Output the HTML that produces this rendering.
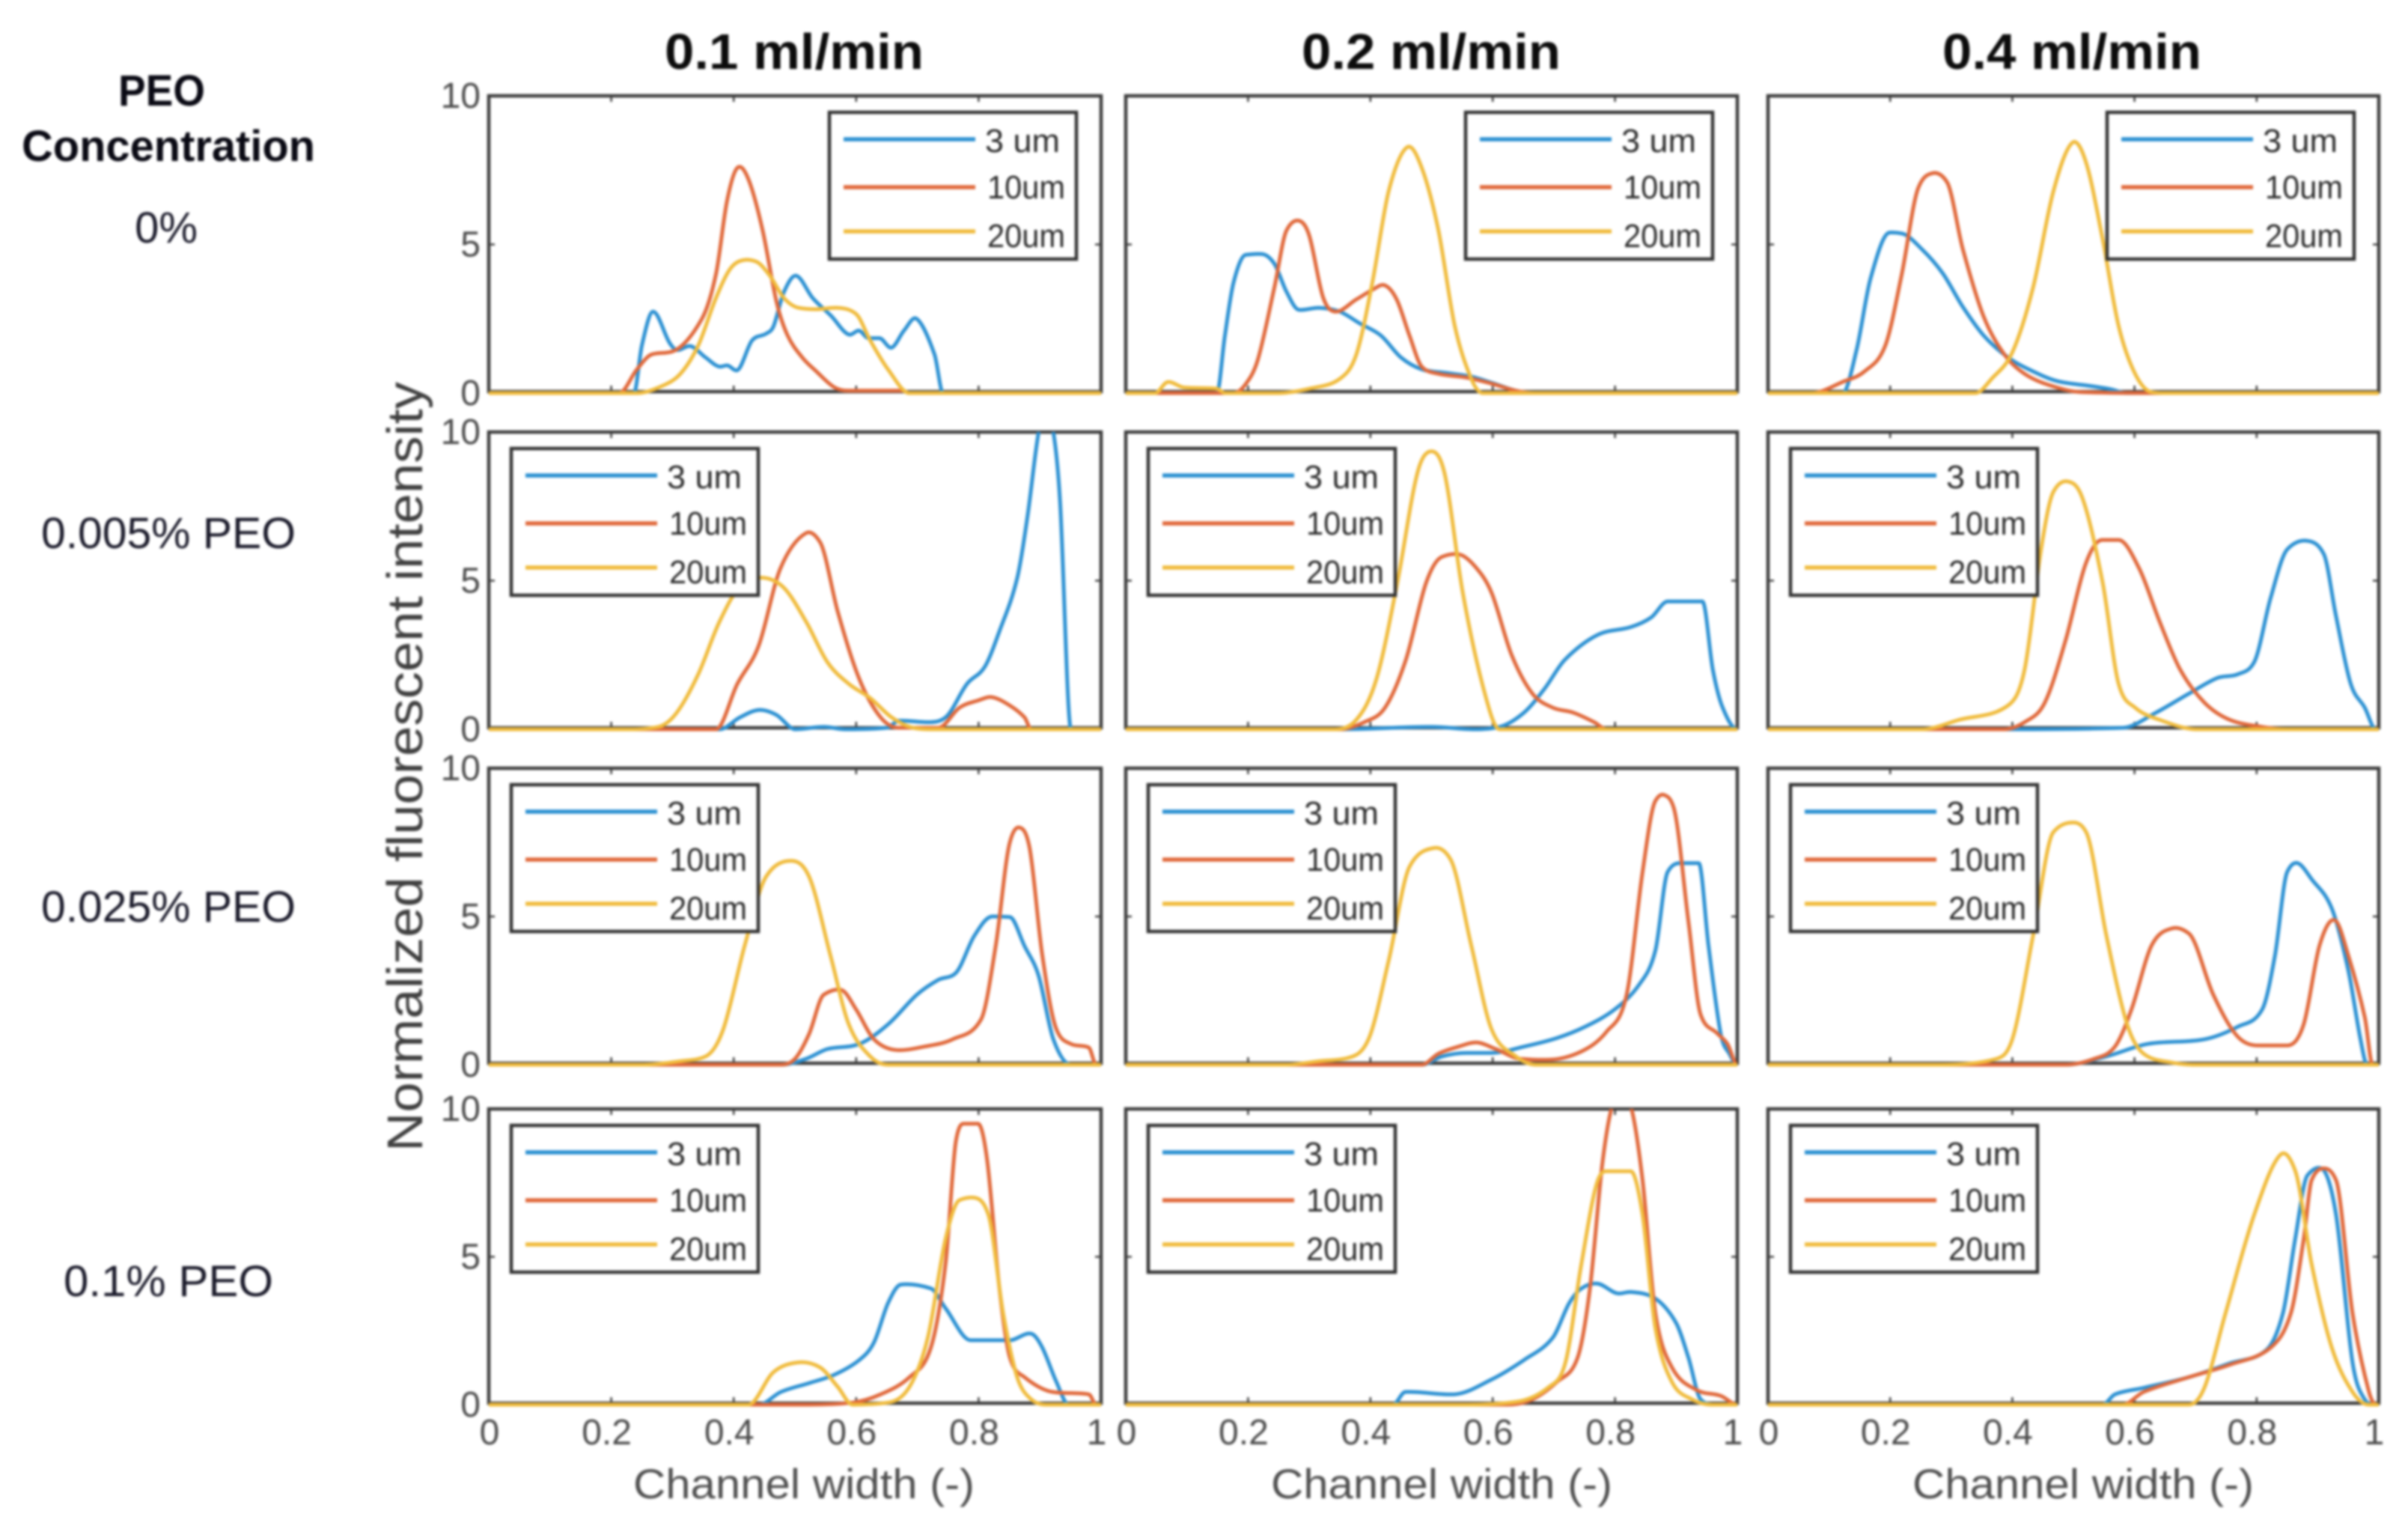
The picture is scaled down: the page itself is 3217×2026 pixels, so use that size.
<!DOCTYPE html>
<html lang="en">
<head>
<meta charset="utf-8">
<title>Normalized fluorescent intensity by channel width</title>
<style>
html,body{margin:0;padding:0;background:#fff;width:3217px;height:2026px;overflow:hidden}
svg{display:block;filter:blur(1.5px)}
text{font-family:"Liberation Sans",sans-serif}
</style>
</head>
<body>
<svg id="figure" xmlns="http://www.w3.org/2000/svg" width="3217" height="2026" viewBox="0 0 3217 2026">
  <rect width="3217" height="2026" fill="#fff"/>
  <g font-weight="700" font-size="67" fill="#0c0c0c" text-anchor="middle">
    <text x="1061" y="92" textLength="346" lengthAdjust="spacingAndGlyphs">0.1 ml/min</text>
    <text x="1912" y="92" textLength="346" lengthAdjust="spacingAndGlyphs">0.2 ml/min</text>
    <text x="2768" y="92" textLength="346" lengthAdjust="spacingAndGlyphs">0.4 ml/min</text>
  </g>
  <g font-size="58" fill="#1a1a2a" text-anchor="middle">
    <text x="216" y="141" font-weight="700" textLength="116" lengthAdjust="spacingAndGlyphs" fill="#0a0a14">PEO</text>
    <text x="225" y="215" font-weight="700" textLength="392" lengthAdjust="spacingAndGlyphs" fill="#0a0a14">Concentration</text>
    <text x="222" y="324">0%</text>
    <text x="225" y="732" textLength="340" lengthAdjust="spacingAndGlyphs">0.005% PEO</text>
    <text x="225" y="1231" textLength="340" lengthAdjust="spacingAndGlyphs">0.025% PEO</text>
    <text x="225" y="1731" textLength="280" lengthAdjust="spacingAndGlyphs">0.1% PEO</text>
  </g>
  <text transform="translate(564,1024) rotate(-90)" font-size="67" fill="#404040" text-anchor="middle" textLength="1028" lengthAdjust="spacingAndGlyphs">Normalized fluorescent intensity</text>
  <g font-size="56" fill="#505050" text-anchor="middle">
    <text x="1074" y="2001" textLength="456" lengthAdjust="spacingAndGlyphs">Channel width (-)</text>
    <text x="1926" y="2001" textLength="456" lengthAdjust="spacingAndGlyphs">Channel width (-)</text>
    <text x="2783" y="2001" textLength="456" lengthAdjust="spacingAndGlyphs">Channel width (-)</text>
  </g>
  <g id="panels"></g>
</svg>
<script>
const xTickValues = [0, 0.2, 0.4, 0.6, 0.8, 1];
const xTickLabels = ['0', '0.2', '0.4', '0.6', '0.8', '1'];
const yTickValues = [0, 5, 10];
const yTickLabels = ['0', '5', '10'];
const seriesLabels = ['3 um', '10um', '20um'];
const seriesKeys = ['3um', '10um', '20um'];

const r1c1_3um = [[.237,0],[.25,1.6],[.268,2.74],[.295,1.7],[.307,1.45],[.33,1.58],[.354,1.2],[.377,.89],[.39,.93],[.406,.77],[.43,1.77],[.453,2.0],[.465,2.25],[.482,3.4],[.502,3.95],[.529,3.2],[.559,2.6],[.588,1.97],[.605,2.1],[.62,1.85],[.638,1.85],[.658,1.53],[.678,2.1],[.699,2.5],[.728,1.3],[.742,0]];
const r1c1_10um = [[.213,0],[.242,.8],[.266,1.3],[.3,1.4],[.348,2.5],[.371,4.0],[.389,6.45],[.406,7.58],[.424,7.2],[.447,5.5],[.47,3.06],[.488,1.94],[.512,1.2],[.535,.73],[.564,.2],[.588,.08],[.676,.08],[.687,0]];
const r1c1_20um = [[.242,0],[.283,.24],[.313,.65],[.342,1.6],[.371,3.2],[.395,4.2],[.418,4.48],[.436,4.43],[.459,3.95],[.482,3.2],[.506,2.87],[.535,2.82],[.57,2.87],[.6,2.66],[.623,1.77],[.652,.8],[.687,0]];

const r1c2_3um = [[.149,0],[.162,1.93],[.176,3.7],[.196,4.65],[.222,4.68],[.243,4.35],[.263,3.4],[.283,2.8],[.316,2.87],[.35,2.74],[.383,2.34],[.417,1.94],[.45,1.2],[.484,.8],[.524,.68],[.564,.56],[.598,.35],[.638,.08],[.665,0]];
const r1c2_10um = [[.176,0],[.196,.3],[.216,1.13],[.243,3.55],[.263,5.48],[.283,5.8],[.3,5.3],[.323,3.2],[.343,2.74],[.377,3.15],[.403,3.47],[.423,3.63],[.443,3.15],[.464,1.93],[.484,.89],[.511,.65],[.558,.52],[.598,.32],[.638,.08],[.67,0]];
const r1c2_20um = [[.048,0],[.068,.37],[.095,.19],[.149,.15],[.162,0],[.25,0],[.303,.16],[.35,.48],[.377,1.3],[.403,3.7],[.43,6.8],[.46,8.27],[.484,7.58],[.511,5.5],[.538,2.26],[.565,.48],[.584,0]];

const r1c3_3um = [[.122,0],[.145,1.45],[.168,3.87],[.199,5.4],[.219,5.37],[.252,4.84],[.286,4.03],[.319,2.9],[.353,1.94],[.393,1.2],[.434,.73],[.474,.4],[.528,.24],[.561,.13],[.588,0]];
const r1c3_10um = [[.071,0],[.125,.4],[.158,.73],[.192,1.6],[.219,4.0],[.246,6.9],[.27,7.4],[.293,7.1],[.319,4.84],[.353,2.58],[.387,1.3],[.42,.65],[.46,.27],[.514,.03],[.63,0]];
const r1c3_20um = [[.34,0],[.366,.48],[.4,1.37],[.434,3.55],[.467,6.77],[.498,8.42],[.521,7.74],[.548,5.16],[.574,2.26],[.601,.65],[.628,.03],[.648,0]];

const r2c1_3um = [[.377,0],[.41,.4],[.441,.65],[.47,.48],[.5,0],[.547,.08],[.582,0],[.65,.05],[.67,.29],[.722,.24],[.746,.4],[.781,1.53],[.81,2.1],[.834,3.3],[.863,5.08],[.88,7.18],[.898,10],[.91,10.6],[.922,10],[.933,7.66],[.951,0]];
const r2c1_10um = [[.371,0],[.406,1.53],[.441,2.82],[.476,5.4],[.518,6.6],[.541,6.3],[.57,3.95],[.605,1.7],[.64,.4],[.67,.05],[.734,.05],[.769,.73],[.799,.97],[.822,1.08],[.851,.8],[.875,.4],[.886,0]];
const r2c1_20um = [[.23,0],[.277,.08],[.307,.56],[.342,1.85],[.377,3.63],[.412,4.84],[.447,5.1],[.482,4.76],[.518,3.63],[.553,2.26],[.588,1.53],[.623,1.05],[.658,.4],[.693,.05],[.722,0]];

const r2c2_3um = [[.35,0],[.5,.08],[.57,0],[.611,.08],[.651,.56],[.685,1.37],[.718,2.34],[.772,3.18],[.826,3.44],[.859,3.76],[.886,4.3],[.943,4.3],[.96,2.0],[.976,.73],[1,0]];
const r2c2_10um = [[.35,0],[.39,.24],[.424,.73],[.458,2.34],[.491,4.92],[.517,5.8],[.544,5.89],[.571,5.48],[.598,4.6],[.631,2.5],[.665,1.2],[.698,.73],[.732,.56],[.766,.24],[.786,0]];
const r2c2_20um = [[.343,0],[.377,.32],[.41,1.7],[.444,4.92],[.477,8.63],[.5,9.35],[.521,8.63],[.551,4.6],[.585,1.37],[.611,0]];

const r2c3_3um = [[.393,0],[.581,.05],[.635,.56],[.689,1.2],[.736,1.73],[.769,1.85],[.796,2.26],[.823,4.43],[.85,6.05],[.883,6.34],[.91,5.89],[.93,3.8],[.954,1.53],[.977,.73],[.995,0]];
const r2c3_10um = [[.386,0],[.42,.24],[.453,.89],[.487,2.98],[.52,5.56],[.547,6.37],[.574,6.37],[.608,5.4],[.641,3.63],[.675,2.0],[.715,.89],[.756,.32],[.809,.08],[.85,0]];
const r2c3_20um = [[.252,0],[.313,.32],[.393,.8],[.42,2.0],[.447,6.05],[.467,7.98],[.49,8.34],[.514,7.82],[.548,4.92],[.574,1.53],[.601,.73],[.641,.32],[.702,0]];

const r3c1_3um = [[.477,0],[.518,.2],[.553,.53],[.605,.7],[.652,1.36],[.699,2.36],[.734,2.86],[.763,3.1],[.793,4.35],[.822,5.0],[.851,4.98],[.875,4.0],[.898,3.0],[.922,.86],[.951,0]];
const r3c1_10um = [[.477,0],[.5,.2],[.523,1.03],[.547,2.36],[.576,2.52],[.6,1.86],[.629,.86],[.664,.5],[.711,.61],[.758,.86],[.804,1.53],[.828,4.02],[.851,7.5],[.867,8.0],[.883,7.34],[.904,3.69],[.927,1.2],[.951,.7],[.98,.58],[.992,0]];
const r3c1_20um = [[.254,0],[.313,.12],[.354,.28],[.383,1.2],[.418,4.02],[.453,6.35],[.494,6.88],[.523,6.35],[.558,3.69],[.588,1.36],[.623,.28],[.652,0]];

const r3c2_3um = [[.484,0],[.517,.28],[.557,.4],[.598,.4],[.651,.61],[.705,.9],[.751,1.28],[.799,1.86],[.839,2.69],[.866,3.85],[.886,6.5],[.906,6.8],[.937,6.8],[.953,4.0],[.973,1.03],[.987,.37],[1,0]];
const r3c2_10um = [[.484,0],[.511,.37],[.544,.61],[.574,.75],[.605,.53],[.645,.2],[.692,.17],[.745,.45],[.786,1.11],[.819,2.36],[.845,6.5],[.866,8.9],[.88,9.1],[.896,8.67],[.92,4.85],[.94,1.69],[.967,1.06],[.984,.7],[1,0]];
const r3c2_20um = [[.263,0],[.316,.12],[.363,.23],[.397,.86],[.43,3.52],[.464,6.68],[.504,7.31],[.531,6.93],[.565,4.02],[.598,1.2],[.638,.28],[.672,0]];

const r3c3_3um = [[.487,0],[.554,.28],[.621,.7],[.715,.86],[.769,1.28],[.809,1.86],[.83,3.69],[.85,6.5],[.867,6.8],[.89,6.26],[.923,5.27],[.95,3.19],[.97,.86],[.981,0]];
const r3c3_10um = [[.487,0],[.534,.2],[.568,.61],[.595,1.86],[.628,4.02],[.662,4.6],[.689,4.43],[.729,2.36],[.769,.95],[.803,.65],[.85,.65],[.877,1.36],[.903,4.02],[.928,4.88],[.95,3.69],[.977,1.61],[.99,0]];
const r3c3_20um = [[.286,0],[.374,.2],[.4,.86],[.434,4.35],[.467,7.84],[.5,8.17],[.521,7.84],[.554,4.35],[.588,1.36],[.615,.37],[.662,.07],[.702,0]];

const r4c1_3um = [[.441,0],[.477,.43],[.523,.73],[.564,1.01],[.605,1.51],[.629,2.1],[.652,3.43],[.673,4.06],[.722,3.93],[.746,3.26],[.787,2.18],[.851,2.18],[.886,2.4],[.904,1.93],[.927,.77],[.947,0]];
const r4c1_10um = [[.523,0],[.594,.07],[.64,.35],[.687,.93],[.722,1.93],[.746,4.76],[.763,8.92],[.775,9.5],[.799,9.5],[.814,8.25],[.834,3.93],[.851,1.6],[.875,.93],[.921,.43],[.98,.35],[.992,0]];
const r4c1_20um = [[.424,0],[.465,1.1],[.506,1.43],[.541,1.26],[.57,.6],[.594,0],[.652,.07],[.687,.6],[.717,2.26],[.746,5.6],[.769,6.92],[.793,7.0],[.816,6.42],[.84,3.1],[.863,.93],[.886,.18],[.91,0]];

const r4c2_3um = [[.437,0],[.457,.43],[.537,.35],[.598,.85],[.651,1.51],[.698,2.26],[.725,3.43],[.745,3.93],[.772,4.09],[.805,3.76],[.826,3.81],[.866,3.59],[.9,2.76],[.92,1.6],[.94,.18],[.96,0]];
const r4c2_10um = [[.625,0],[.665,.18],[.705,.77],[.739,1.6],[.759,3.93],[.779,8.09],[.795,10.07],[.81,10.5],[.826,10.07],[.845,7.59],[.866,3.1],[.893,1.26],[.933,.5],[.973,.3],[1,0]];
const r4c2_20um = [[.558,0],[.64,.1],[.692,.6],[.719,1.43],[.745,4.76],[.772,7.59],[.785,7.89],[.826,7.89],[.845,6.42],[.866,2.6],[.893,.77],[.926,.18],[.96,0]];

const r4c3_3um = [[.548,0],[.568,.35],[.615,.57],[.689,.93],[.756,1.4],[.816,1.85],[.843,3.09],[.863,5.59],[.883,7.75],[.906,7.99],[.93,6.42],[.957,1.43],[.977,.18],[.99,0]];
const r4c3_10um = [[.581,0],[.615,.43],[.689,.93],[.756,1.35],[.823,1.93],[.856,3.09],[.877,5.59],[.89,7.59],[.91,7.99],[.93,7.59],[.957,3.09],[.984,.43],[.997,0]];
const r4c3_20um = [[.689,0],[.715,.6],[.749,3.09],[.796,6.42],[.839,8.45],[.863,7.92],[.89,4.76],[.923,1.93],[.957,.43],[.984,0]];

const panelSeries = [
  [[r1c1_3um, r1c1_10um, r1c1_20um], [r1c2_3um, r1c2_10um, r1c2_20um], [r1c3_3um, r1c3_10um, r1c3_20um]],
  [[r2c1_3um, r2c1_10um, r2c1_20um], [r2c2_3um, r2c2_10um, r2c2_20um], [r2c3_3um, r2c3_10um, r2c3_20um]],
  [[r3c1_3um, r3c1_10um, r3c1_20um], [r3c2_3um, r3c2_10um, r3c2_20um], [r3c3_3um, r3c3_10um, r3c3_20um]],
  [[r4c1_3um, r4c1_10um, r4c1_20um], [r4c2_3um, r4c2_10um, r4c2_20um], [r4c3_3um, r4c3_10um, r4c3_20um]]
];

const NS = 'http://www.w3.org/2000/svg';
const colors = ['#2b90d2', '#e0683a', '#f0bb3c'];
const axisColor = '#3c3c3c';
const rowTop = [128, 577, 1026, 1481];
const rowBottom = [523, 972, 1420, 1874];
const colLeft = [653, 1504, 2362];
const colRight = [1471, 2321, 3178];
const root = document.getElementById('panels');

function make(tag, attrs, parent) {
  const el = document.createElementNS(NS, tag);
  for (const k in attrs) el.setAttribute(k, attrs[k]);
  parent.appendChild(el);
  return el;
}

function smoothPath(pts, floorY) {
  const n = pts.length;
  const d = [], m = [];
  for (let i = 0; i < n - 1; i++) d.push((pts[i + 1][1] - pts[i][1]) / (pts[i + 1][0] - pts[i][0]));
  m.push(0);
  for (let i = 1; i < n - 1; i++) {
    const a = d[i - 1], b = d[i];
    if (a === 0 || b === 0) { m.push(0); continue; }
    const central = (pts[i + 1][1] - pts[i - 1][1]) / (pts[i + 1][0] - pts[i - 1][0]);
    const limit = (a * b > 0 ? 2.5 : 0.9) * Math.min(Math.abs(a), Math.abs(b));
    m.push(Math.max(-limit, Math.min(limit, central)));
  }
  m.push(0);
  let path = 'M' + pts[0][0].toFixed(1) + ' ' + pts[0][1].toFixed(1);
  for (let i = 0; i < n - 1; i++) {
    const h = (pts[i + 1][0] - pts[i][0]) / 3;
    const c1 = Math.min(floorY, pts[i][1] + m[i] * h);
    const c2 = Math.min(floorY, pts[i + 1][1] - m[i + 1] * h);
    path += 'C' + (pts[i][0] + h).toFixed(1) + ' ' + c1.toFixed(1) + ' ' +
      (pts[i + 1][0] - h).toFixed(1) + ' ' + c2.toFixed(1) + ' ' +
      pts[i + 1][0].toFixed(1) + ' ' + pts[i + 1][1].toFixed(1);
  }
  return path;
}

panelSeries.forEach((rowData, r) => {
  rowData.forEach((seriesSet, c) => {
    const L = colLeft[c], R = colRight[c], T = rowTop[r], B = rowBottom[r];
    const xScale = v => L + v * (R - L);
    const yScale = v => (B + 2) - (v / 10) * (B + 2 - T);

    const g = make('g', {}, root);
    
    

    const clipId = 'clip-' + r + '-' + c;
    const defs = make('defs', {}, g);
    const clip = make('clipPath', { id: clipId }, defs);
    make('rect', { x: L - 4, y: T, width: R - L + 8, height: B - T + 8 }, clip);

    xTickValues.forEach((v, i) => {
      if (v > 0 && v < 1) {
        const t1 = make('line', { x1: xScale(v), x2: xScale(v), y1: T, y2: T + 8, stroke: axisColor, 'stroke-width': 2.5 }, g);
        
        
        const t2 = make('line', { x1: xScale(v), x2: xScale(v), y1: B, y2: B - 8, stroke: axisColor, 'stroke-width': 2.5 }, g);
        
        
      }
      if (r === 3) {
        const lbl = make('text', { x: xScale(v) - (v === 0 ? -1 : 6), y: 1929, 'font-size': 48, fill: '#4c4c4c', 'text-anchor': 'middle' }, g);
        
        
        lbl.textContent = xTickLabels[i];
      }
    });
    yTickValues.forEach((v, i) => {
      if (v === 5) {
        const t1 = make('line', { x1: L, x2: L + 8, y1: yScale(v), y2: yScale(v), stroke: axisColor, 'stroke-width': 2.5 }, g);
        
        
        const t2 = make('line', { x1: R, x2: R - 8, y1: yScale(v), y2: yScale(v), stroke: axisColor, 'stroke-width': 2.5 }, g);
        
        
      }
      if (c === 0) {
        const lbl = make('text', { x: L - 11, y: yScale(v) + 16, 'font-size': 48, fill: '#4c4c4c', 'text-anchor': 'end' }, g);
        
        
        lbl.textContent = yTickLabels[i];
      }
    });

    const box = make('rect', { x: L, y: T, width: R - L, height: B - T, fill: 'none', stroke: axisColor, 'stroke-width': 4.5 }, g);
    
    

    seriesSet.forEach((points, s) => {
      const full = points.slice();
      if (full[0][0] > 0) full.unshift([0, 0]);
      if (full[full.length - 1][0] < 1) full.push([1, 0]);
      const pixels = full.map(p => [xScale(p[0]), yScale(p[1])]);
      const line = make('path', { d: smoothPath(pixels, yScale(0)), fill: 'none', stroke: colors[s], 'stroke-width': 5, 'stroke-linejoin': 'round', 'clip-path': 'url(#' + clipId + ')' }, g);
      
      
    });

    const legW = 330, legH = 196;
    const legX = r === 0 ? R - 33 - legW : L + 30;
    const legY = T + 22;
    const leg = make('g', {}, g);
    
    
    const legBox = make('rect', { x: legX, y: legY, width: legW, height: legH, fill: '#fff', stroke: '#333', 'stroke-width': 4.5 }, leg);
    
    
    const keyY = [36, 100, 159];
    const textY = [53, 115, 180];
    const textX = [208, 211, 211];
    const textW = [100, 104, 104];
    seriesLabels.forEach((label, s) => {
      const key = make('line', { x1: legX + 19, x2: legX + 195, y1: legY + keyY[s], y2: legY + keyY[s], stroke: colors[s], 'stroke-width': 5.5 }, leg);
      
      
      const txt = make('text', { x: legX + textX[s], y: legY + textY[s], 'font-size': 44, fill: '#2c2c2c', textLength: textW[s], lengthAdjust: 'spacingAndGlyphs' }, leg);
      
      
      txt.textContent = label;
    });
  });
});
</script>
</body>
</html>
